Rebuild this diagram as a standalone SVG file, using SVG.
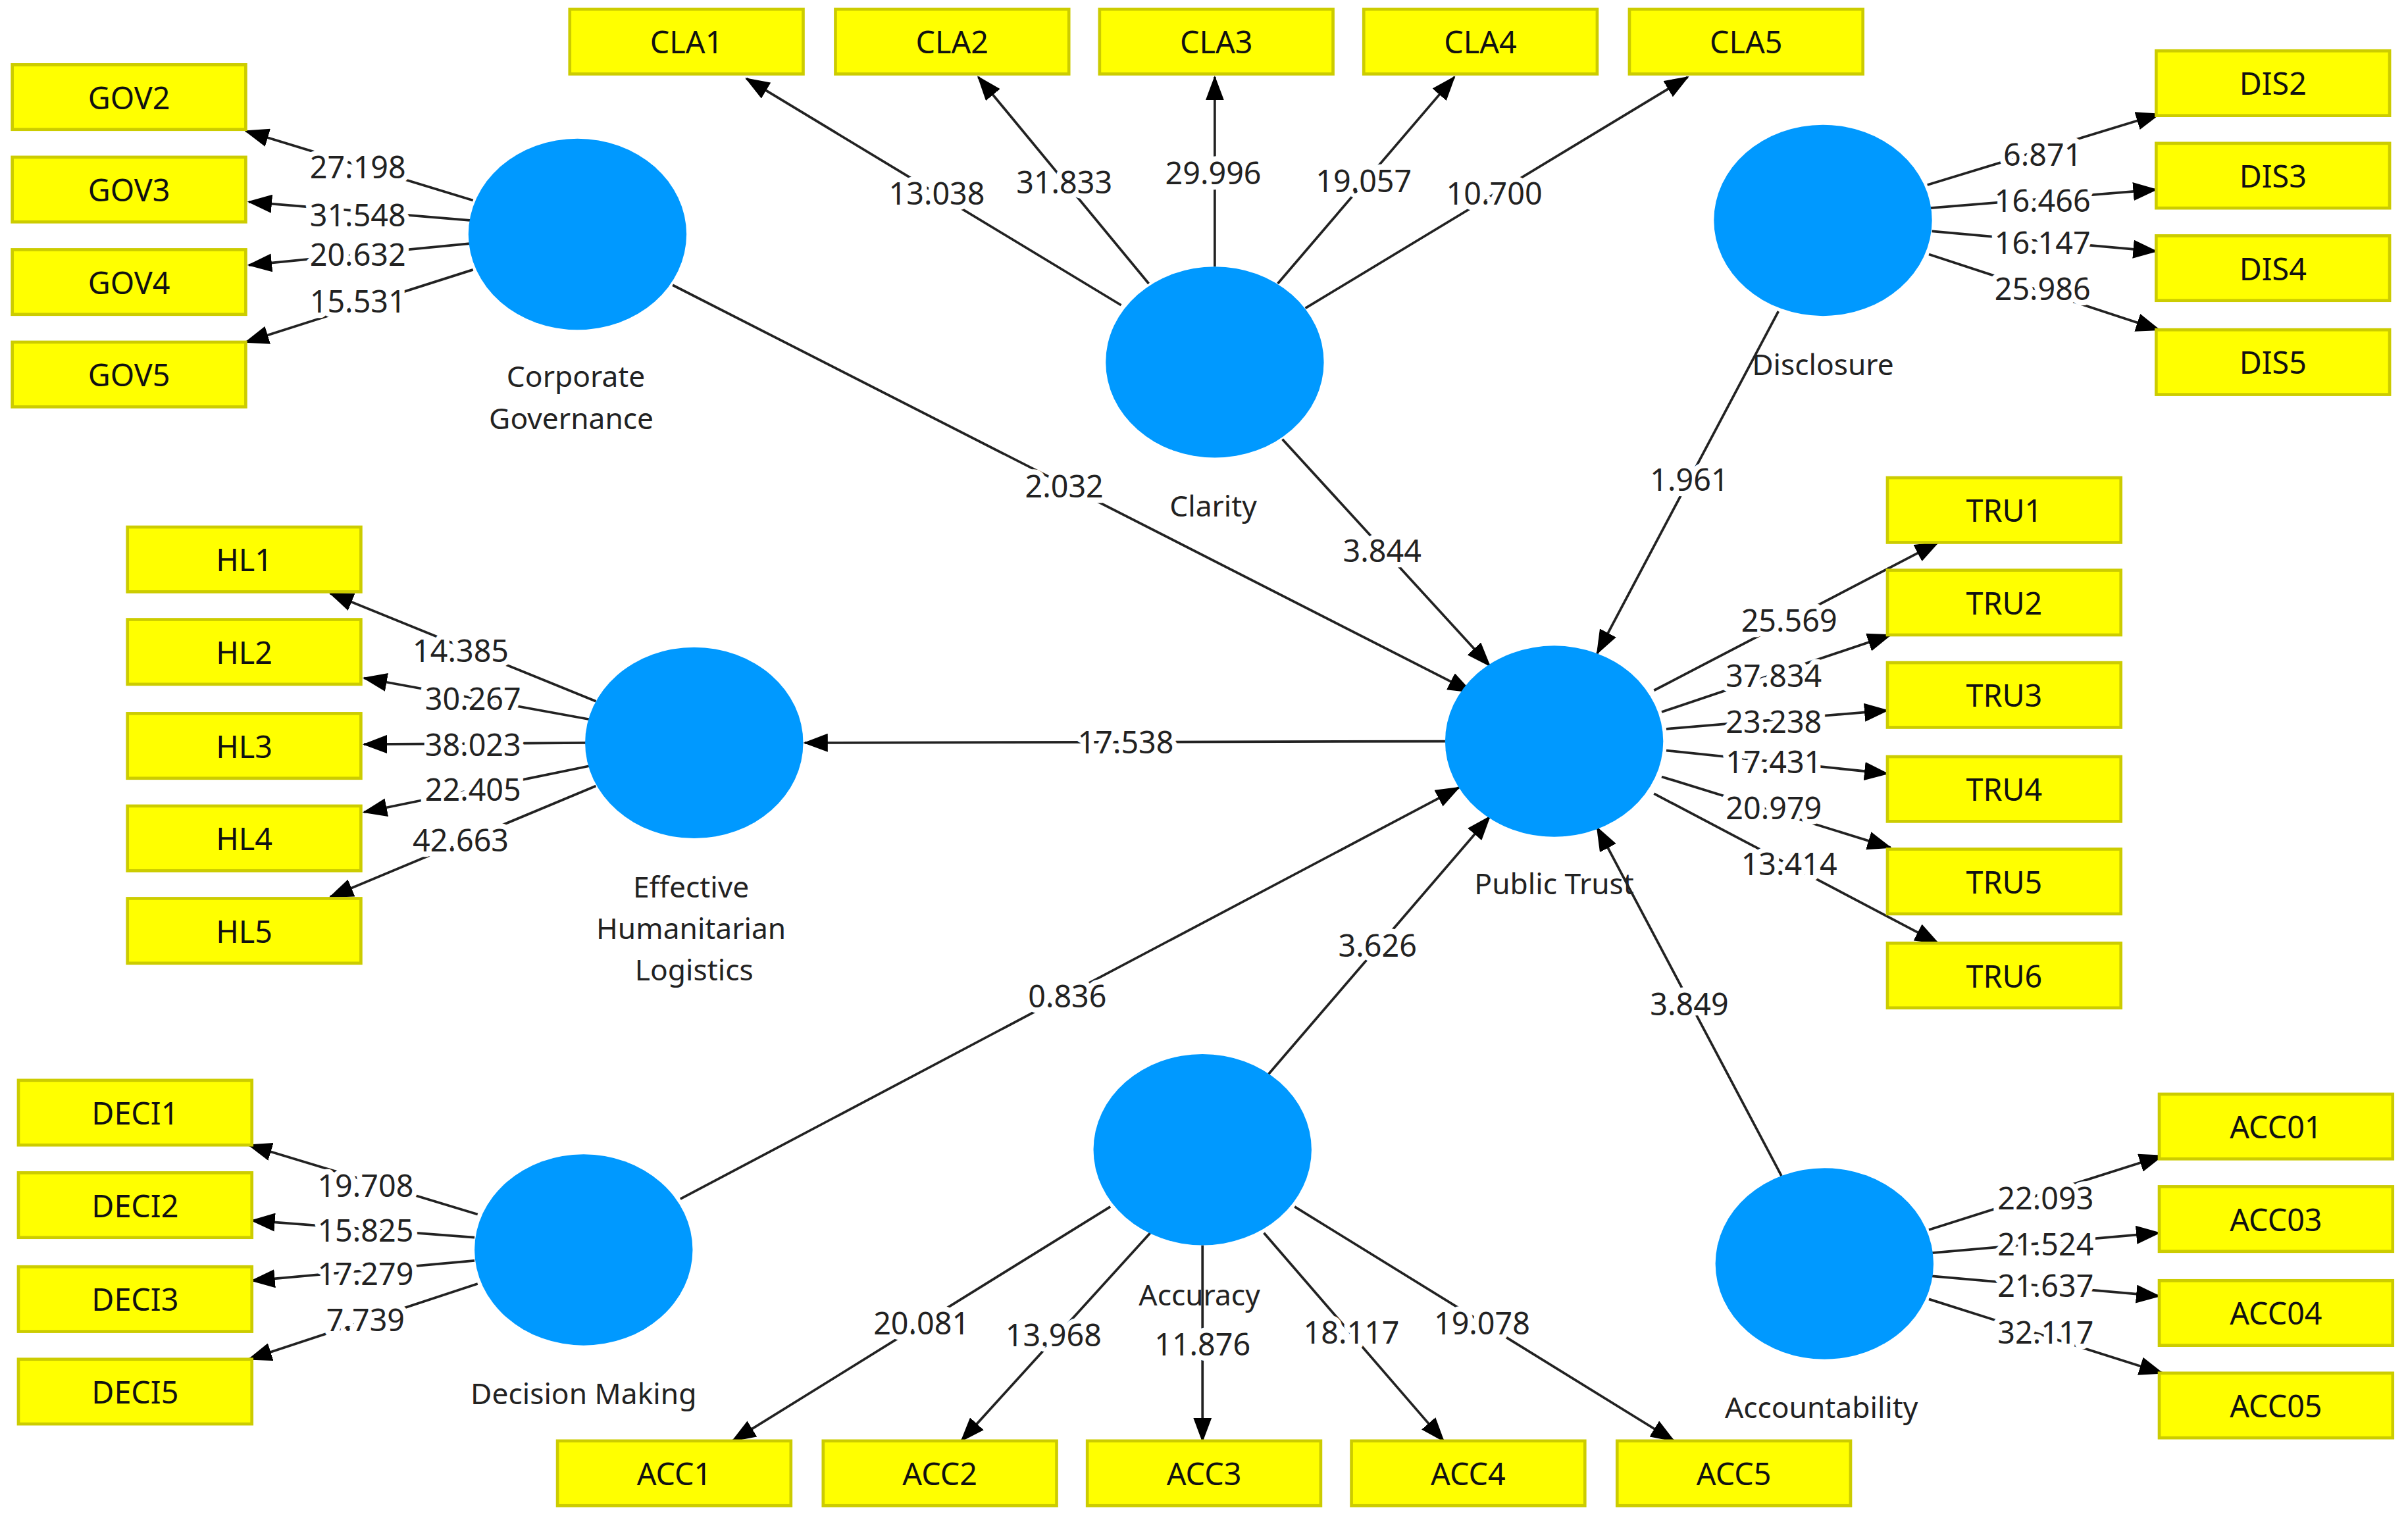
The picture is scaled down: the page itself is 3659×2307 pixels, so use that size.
<svg xmlns="http://www.w3.org/2000/svg" width="3659" height="2307" viewBox="0 0 3659 2307">
<style>
.b{fill:#FFFF00;stroke:#CCCC00;stroke-width:2}
.bt{font-family:"Noto Sans","Liberation Sans",sans-serif;font-size:20px;fill:#111;text-anchor:middle;dominant-baseline:central}
.e{fill:#0099FF}
.lt{font-family:"Noto Sans","Liberation Sans",sans-serif;font-size:19px;fill:#222;text-anchor:middle;dominant-baseline:central}
.c line{stroke:#222;stroke-width:1.6;marker-end:url(#a)}
.n{font-family:"Noto Sans","Liberation Sans",sans-serif;font-size:20px;fill:#222;text-anchor:middle;dominant-baseline:central;stroke:#fff;stroke-width:7;paint-order:stroke;stroke-linejoin:round}
</style>
<defs><marker id="a" markerWidth="16" markerHeight="12" refX="15" refY="6" orient="auto" markerUnits="userSpaceOnUse"><path d="M0,0L16,6L0,12z" fill="#000"/></marker></defs>
<rect width="3659" height="2307" fill="#fff"/>
<g transform="scale(2.3336,2.3421)">
<g class="c" id="connectors">
<line x1="308" y1="130" x2="160" y2="85"/><line x1="306" y1="143" x2="162" y2="131"/><line x1="306" y1="158" x2="162" y2="172"/><line x1="308" y1="175" x2="160" y2="222"/>
<line x1="730" y1="198" x2="486" y2="51"/><line x1="748" y1="184" x2="637" y2="50"/><line x1="791" y1="173" x2="791" y2="50"/><line x1="832" y1="184" x2="947" y2="50"/><line x1="850" y1="200" x2="1099" y2="50"/>
<line x1="1255" y1="120" x2="1406" y2="74"/><line x1="1257" y1="135" x2="1404" y2="123"/><line x1="1258" y1="150" x2="1404" y2="163"/><line x1="1256" y1="165" x2="1406" y2="214"/>
<line x1="1077" y1="448" x2="1262" y2="352"/><line x1="1082" y1="462" x2="1231" y2="412"/><line x1="1085" y1="473" x2="1229" y2="461"/><line x1="1085" y1="487" x2="1229" y2="502"/><line x1="1082" y1="504" x2="1231" y2="550"/><line x1="1077" y1="515" x2="1262" y2="612"/>
<line x1="388" y1="455" x2="215" y2="385"/><line x1="385" y1="467" x2="237" y2="440"/><line x1="382" y1="482" x2="237" y2="483"/><line x1="384" y1="497" x2="237" y2="527"/><line x1="388" y1="510" x2="215" y2="582"/>
<line x1="941" y1="481" x2="524" y2="482"/>
<line x1="311" y1="788" x2="162" y2="743"/><line x1="309" y1="803" x2="164" y2="792"/><line x1="309" y1="818" x2="164" y2="831"/><line x1="311" y1="833" x2="162" y2="882"/>
<line x1="723" y1="783" x2="477" y2="935"/><line x1="749" y1="800" x2="626" y2="935"/><line x1="783" y1="808" x2="783" y2="935"/><line x1="823" y1="800" x2="940" y2="935"/><line x1="843" y1="783" x2="1090" y2="935"/>
<line x1="1256" y1="798" x2="1408" y2="750"/><line x1="1258" y1="813" x2="1406" y2="800"/><line x1="1258" y1="828" x2="1406" y2="841"/><line x1="1256" y1="843" x2="1408" y2="891"/>
<line x1="438" y1="185" x2="958" y2="449"/><line x1="835" y1="285" x2="970" y2="432"/><line x1="1158" y1="202" x2="1040" y2="424"/><line x1="443" y1="778" x2="950" y2="511"/><line x1="826" y1="697" x2="970" y2="530"/><line x1="1160" y1="763" x2="1040" y2="537"/>
</g>
<g id="labels">
<text class="n" x="233" y="108">27.198</text><text class="n" x="233" y="139">31.548</text><text class="n" x="233" y="165">20.632</text><text class="n" x="233" y="195">15.531</text>
<text class="n" x="610" y="125">13.038</text><text class="n" x="693" y="118">31.833</text><text class="n" x="790" y="112">29.996</text><text class="n" x="888" y="117">19.057</text><text class="n" x="973" y="125">10.700</text>
<text class="n" x="1330" y="100">6.871</text><text class="n" x="1330" y="130">16.466</text><text class="n" x="1330" y="157">16.147</text><text class="n" x="1330" y="187">25.986</text>
<text class="n" x="1165" y="402">25.569</text><text class="n" x="1155" y="438">37.834</text><text class="n" x="1155" y="468">23.238</text><text class="n" x="1155" y="494">17.431</text><text class="n" x="1155" y="524">20.979</text><text class="n" x="1165" y="560">13.414</text>
<text class="n" x="300" y="422">14.385</text><text class="n" x="308" y="453">30.267</text><text class="n" x="308" y="483">38.023</text><text class="n" x="308" y="512">22.405</text><text class="n" x="300" y="545">42.663</text>
<text class="n" x="733" y="481">17.538</text>
<text class="n" x="238" y="769">19.708</text><text class="n" x="238" y="798">15.825</text><text class="n" x="238" y="826">17.279</text><text class="n" x="238" y="856">7.739</text>
<text class="n" x="600" y="858">20.081</text><text class="n" x="686" y="866">13.968</text><text class="n" x="783" y="872">11.876</text><text class="n" x="880" y="864">18.117</text><text class="n" x="965" y="858">19.078</text>
<text class="n" x="1332" y="777">22.093</text><text class="n" x="1332" y="807">21.524</text><text class="n" x="1332" y="834">21.637</text><text class="n" x="1332" y="864">32.117</text>
<text class="n" x="693" y="315">2.032</text><text class="n" x="900" y="357">3.844</text><text class="n" x="1100" y="311">1.961</text><text class="n" x="695" y="646">0.836</text><text class="n" x="897" y="613">3.626</text><text class="n" x="1100" y="651">3.849</text>
</g>
<g id="cg"><ellipse class="e" cx="376" cy="152" rx="71" ry="62"/><text class="lt" x="375" y="244">Corporate</text><text class="lt" x="372" y="271">Governance</text></g>
<g id="clarity"><ellipse class="e" cx="791" cy="235" rx="71" ry="62"/><text class="lt" x="790" y="328">Clarity</text></g>
<g id="disclosure"><ellipse class="e" cx="1187" cy="143" rx="71" ry="62"/><text class="lt" x="1187" y="236">Disclosure</text></g>
<g id="ehl"><ellipse class="e" cx="452" cy="482" rx="71" ry="62"/><text class="lt" x="450" y="575">Effective</text><text class="lt" x="450" y="602">Humanitarian</text><text class="lt" x="452" y="629">Logistics</text></g>
<g id="pt"><ellipse class="e" cx="1012" cy="481" rx="71" ry="62"/><text class="lt" x="1012" y="573">Public Trust</text></g>
<g id="dm"><ellipse class="e" cx="380" cy="811" rx="71" ry="62"/><text class="lt" x="380" y="904">Decision Making</text></g>
<g id="accuracy"><ellipse class="e" cx="783" cy="746" rx="71" ry="62"/><text class="lt" x="781" y="840">Accuracy</text></g>
<g id="accountability"><ellipse class="e" cx="1188" cy="820" rx="71" ry="62"/><text class="lt" x="1186" y="913">Accountability</text></g>
<g id="indicators">
<g id="GOV2"><rect class="b" x="8" y="42" width="152" height="42"/><text class="bt" x="84" y="63">GOV2</text></g>
<g id="GOV3"><rect class="b" x="8" y="102" width="152" height="42"/><text class="bt" x="84" y="123">GOV3</text></g>
<g id="GOV4"><rect class="b" x="8" y="162" width="152" height="42"/><text class="bt" x="84" y="183">GOV4</text></g>
<g id="GOV5"><rect class="b" x="8" y="222" width="152" height="42"/><text class="bt" x="84" y="243">GOV5</text></g>
<g id="CLA1"><rect class="b" x="371" y="6" width="152" height="42"/><text class="bt" x="447" y="27">CLA1</text></g>
<g id="CLA2"><rect class="b" x="544" y="6" width="152" height="42"/><text class="bt" x="620" y="27">CLA2</text></g>
<g id="CLA3"><rect class="b" x="716" y="6" width="152" height="42"/><text class="bt" x="792" y="27">CLA3</text></g>
<g id="CLA4"><rect class="b" x="888" y="6" width="152" height="42"/><text class="bt" x="964" y="27">CLA4</text></g>
<g id="CLA5"><rect class="b" x="1061" y="6" width="152" height="42"/><text class="bt" x="1137" y="27">CLA5</text></g>
<g id="DIS2"><rect class="b" x="1404" y="33" width="152" height="42"/><text class="bt" x="1480" y="54">DIS2</text></g>
<g id="DIS3"><rect class="b" x="1404" y="93" width="152" height="42"/><text class="bt" x="1480" y="114">DIS3</text></g>
<g id="DIS4"><rect class="b" x="1404" y="153" width="152" height="42"/><text class="bt" x="1480" y="174">DIS4</text></g>
<g id="DIS5"><rect class="b" x="1404" y="214" width="152" height="42"/><text class="bt" x="1480" y="235">DIS5</text></g>
<g id="TRU1"><rect class="b" x="1229" y="310" width="152" height="42"/><text class="bt" x="1305" y="331">TRU1</text></g>
<g id="TRU2"><rect class="b" x="1229" y="370" width="152" height="42"/><text class="bt" x="1305" y="391">TRU2</text></g>
<g id="TRU3"><rect class="b" x="1229" y="430" width="152" height="42"/><text class="bt" x="1305" y="451">TRU3</text></g>
<g id="TRU4"><rect class="b" x="1229" y="491" width="152" height="42"/><text class="bt" x="1305" y="512">TRU4</text></g>
<g id="TRU5"><rect class="b" x="1229" y="551" width="152" height="42"/><text class="bt" x="1305" y="572">TRU5</text></g>
<g id="TRU6"><rect class="b" x="1229" y="612" width="152" height="42"/><text class="bt" x="1305" y="633">TRU6</text></g>
<g id="HL1"><rect class="b" x="83" y="342" width="152" height="42"/><text class="bt" x="159" y="363">HL1</text></g>
<g id="HL2"><rect class="b" x="83" y="402" width="152" height="42"/><text class="bt" x="159" y="423">HL2</text></g>
<g id="HL3"><rect class="b" x="83" y="463" width="152" height="42"/><text class="bt" x="159" y="484">HL3</text></g>
<g id="HL4"><rect class="b" x="83" y="523" width="152" height="42"/><text class="bt" x="159" y="544">HL4</text></g>
<g id="HL5"><rect class="b" x="83" y="583" width="152" height="42"/><text class="bt" x="159" y="604">HL5</text></g>
<g id="DECI1"><rect class="b" x="12" y="701" width="152" height="42"/><text class="bt" x="88" y="722">DECI1</text></g>
<g id="DECI2"><rect class="b" x="12" y="761" width="152" height="42"/><text class="bt" x="88" y="782">DECI2</text></g>
<g id="DECI3"><rect class="b" x="12" y="822" width="152" height="42"/><text class="bt" x="88" y="843">DECI3</text></g>
<g id="DECI5"><rect class="b" x="12" y="882" width="152" height="42"/><text class="bt" x="88" y="903">DECI5</text></g>
<g id="ACC1"><rect class="b" x="363" y="935" width="152" height="42"/><text class="bt" x="439" y="956">ACC1</text></g>
<g id="ACC2"><rect class="b" x="536" y="935" width="152" height="42"/><text class="bt" x="612" y="956">ACC2</text></g>
<g id="ACC3"><rect class="b" x="708" y="935" width="152" height="42"/><text class="bt" x="784" y="956">ACC3</text></g>
<g id="ACC4"><rect class="b" x="880" y="935" width="152" height="42"/><text class="bt" x="956" y="956">ACC4</text></g>
<g id="ACC5"><rect class="b" x="1053" y="935" width="152" height="42"/><text class="bt" x="1129" y="956">ACC5</text></g>
<g id="ACC01"><rect class="b" x="1406" y="710" width="152" height="42"/><text class="bt" x="1482" y="731">ACC01</text></g>
<g id="ACC03"><rect class="b" x="1406" y="770" width="152" height="42"/><text class="bt" x="1482" y="791">ACC03</text></g>
<g id="ACC04"><rect class="b" x="1406" y="831" width="152" height="42"/><text class="bt" x="1482" y="852">ACC04</text></g>
<g id="ACC05"><rect class="b" x="1406" y="891" width="152" height="42"/><text class="bt" x="1482" y="912">ACC05</text></g>
</g>
</g>
</svg>
